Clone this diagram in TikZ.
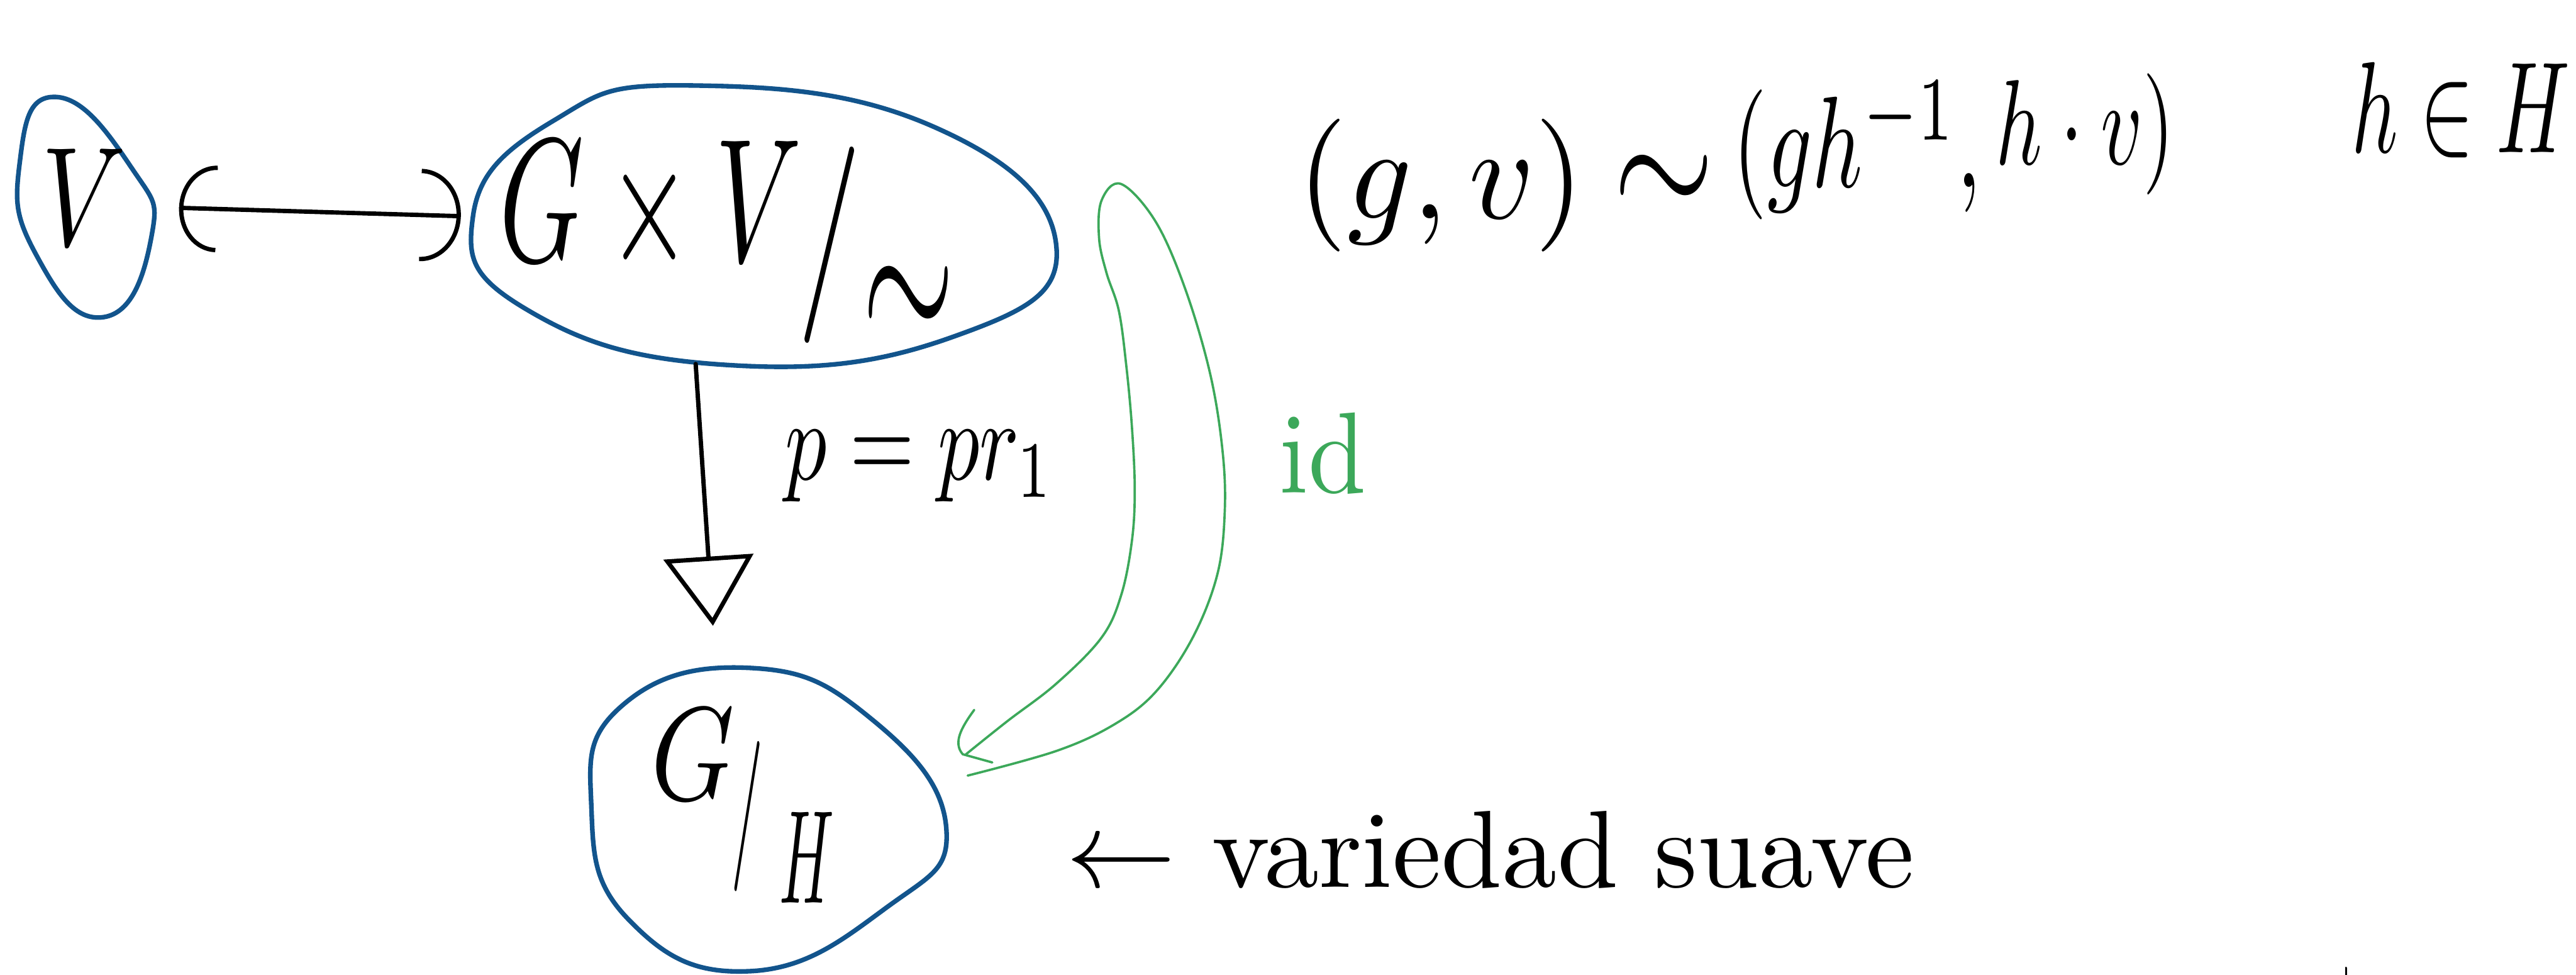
\documentclass[tikz,border=0pt]{standalone}
\usepackage{graphicx}
\usetikzlibrary{arrows.meta,shapes.geometric}
\definecolor{blueink}{RGB}{18,84,140}
\definecolor{greenink}{RGB}{60,168,90}
\begin{document}
\begin{tikzpicture}[x=0.02cm,y=-0.02cm,
  blob/.style={draw=blueink,line width=1.6pt,line join=round},
  ink/.style={draw=black,line width=1.5pt,line cap=round,line join=round},
  gink/.style={draw=greenink,line width=0.8pt,line cap=round,line join=round},
  lbl/.style={inner sep=0pt,outer sep=0pt,font=\fontsize{10}{12}\selectfont},
  hidden/.style={ellipse,inner sep=0pt,outer sep=0pt}]
\useasboundingbox (0,0) rectangle (1568,593.3);

% ---- V ----
\draw[blob] plot[smooth cycle,tension=0.9] coordinates {(34,59) (80,102) (92,145) (63,193) (22,155) (12,99)};
\node[hidden,minimum width=1.64cm,minimum height=2.72cm] (Vbox) at (52,126) {};
\node[lbl] (Vtxt) at (51,120) {\scalebox{3.63}[4.9]{$V$}};

% ---- G x V / ~ ----
\draw[blob] plot[smooth cycle,tension=0.8] coordinates {(288,131) (336,74) (420,52) (568,77) (643,150) (580,205) (441,222) (320,188)};
\node[hidden,minimum width=7.16cm,minimum height=3.44cm] (GxV) at (466,138) {};
\node[lbl,anchor=base] (GxVtxt) at (396,159) {\scalebox{3.72}[6.1]{$G\times V$}};
\node[lbl] (slashA) at (505,149) {\scalebox{4.42}[6.8]{$/$}};
\node[lbl] (simA) at (553,187) {\scalebox{4.1}[7.8]{$\sim$}};

% ---- G / H ----
\draw[blob] plot[smooth cycle,tension=0.8] coordinates {(360,492) (378,430) (457,406.5) (531,438) (576,504) (540,552) (457,591) (383,560)};
\node[hidden,minimum width=4.3cm,minimum height=3.7cm] (GH) at (468,498) {};
\node[lbl] (Gt) at (422,459) {\scalebox{3.68}[4.6]{$G$}};
\node[lbl] (slashB) at (455,497) {\scalebox{2.24}[5.2]{$/$}};
\node[lbl] (Ht) at (491,522) {\scalebox{2.07}[4.6]{$H$}};

% ---- connectors ----
\draw[ink,{Arc Barb[length=13pt,width=30pt]}-{Arc Barb[length=14pt,width=32pt]},shorten <=0.32cm,shorten >=0.14cm] (Vbox.east) -- (GxV.178);
\draw[ink,-{Triangle[open,length=24pt,width=31pt]},shorten >=0.58cm] (GxV.243) -- (GH.110);
\node[lbl,anchor=base west] (plbl) at (478,292) {\scalebox{2.88}[3.96]{$p=pr_1$}};

% ---- green id arrow ----
\draw[gink] plot[smooth,tension=0.6] coordinates {(589,472) (643,457) (678,441) (703.5,421) (726,388) (741,349.5) (745.5,311) (744,273) (736.5,227) (721.5,176) (703.5,135) (682.5,112) (670.5,122) (669,145) (673.5,166) (681,189) (685.5,222) (689,260) (690.7,298) (689,329) (682.5,362) (670.5,388) (643,416) (613,439) (588,459)};
\draw[gink] (593,432) .. controls (585,443) and (580,452) .. (586,459) -- (604,464);
\node[lbl,text=greenink,anchor=base west] (idl) at (779,300) {\scalebox{3.6}[4]{id}};

% ---- relation (written on a rising line) ----
\node[lbl,anchor=base west] (relA) at (790,133) {\scalebox{4.4}[4.6]{$(g,v)$}};
\node[lbl,anchor=base west] (relB) at (982,133) {\scalebox{4.5}[6]{$\sim$}};
\node[lbl,anchor=base west] (relC) at (1055,114) {\scalebox{3.04}[4.5]{$(gh^{-1},$}};
\node[lbl,anchor=base west] (relD) at (1215,100) {\scalebox{2.8}[4.2]{$h\cdot v)$}};
\node[lbl,anchor=base] (hin) at (1498,93) {\scalebox{2.79}[4.5]{$h\in H$}};

% ---- smooth manifold label ----
\node[lbl,anchor=base west] (vs) at (649,540) {\scalebox{3.8}{$\leftarrow$\ variedad suave}};

% stray mark
\draw[ink,line width=0.8pt] (1428,589) -- (1428,593.3);
\end{tikzpicture}
\end{document}
